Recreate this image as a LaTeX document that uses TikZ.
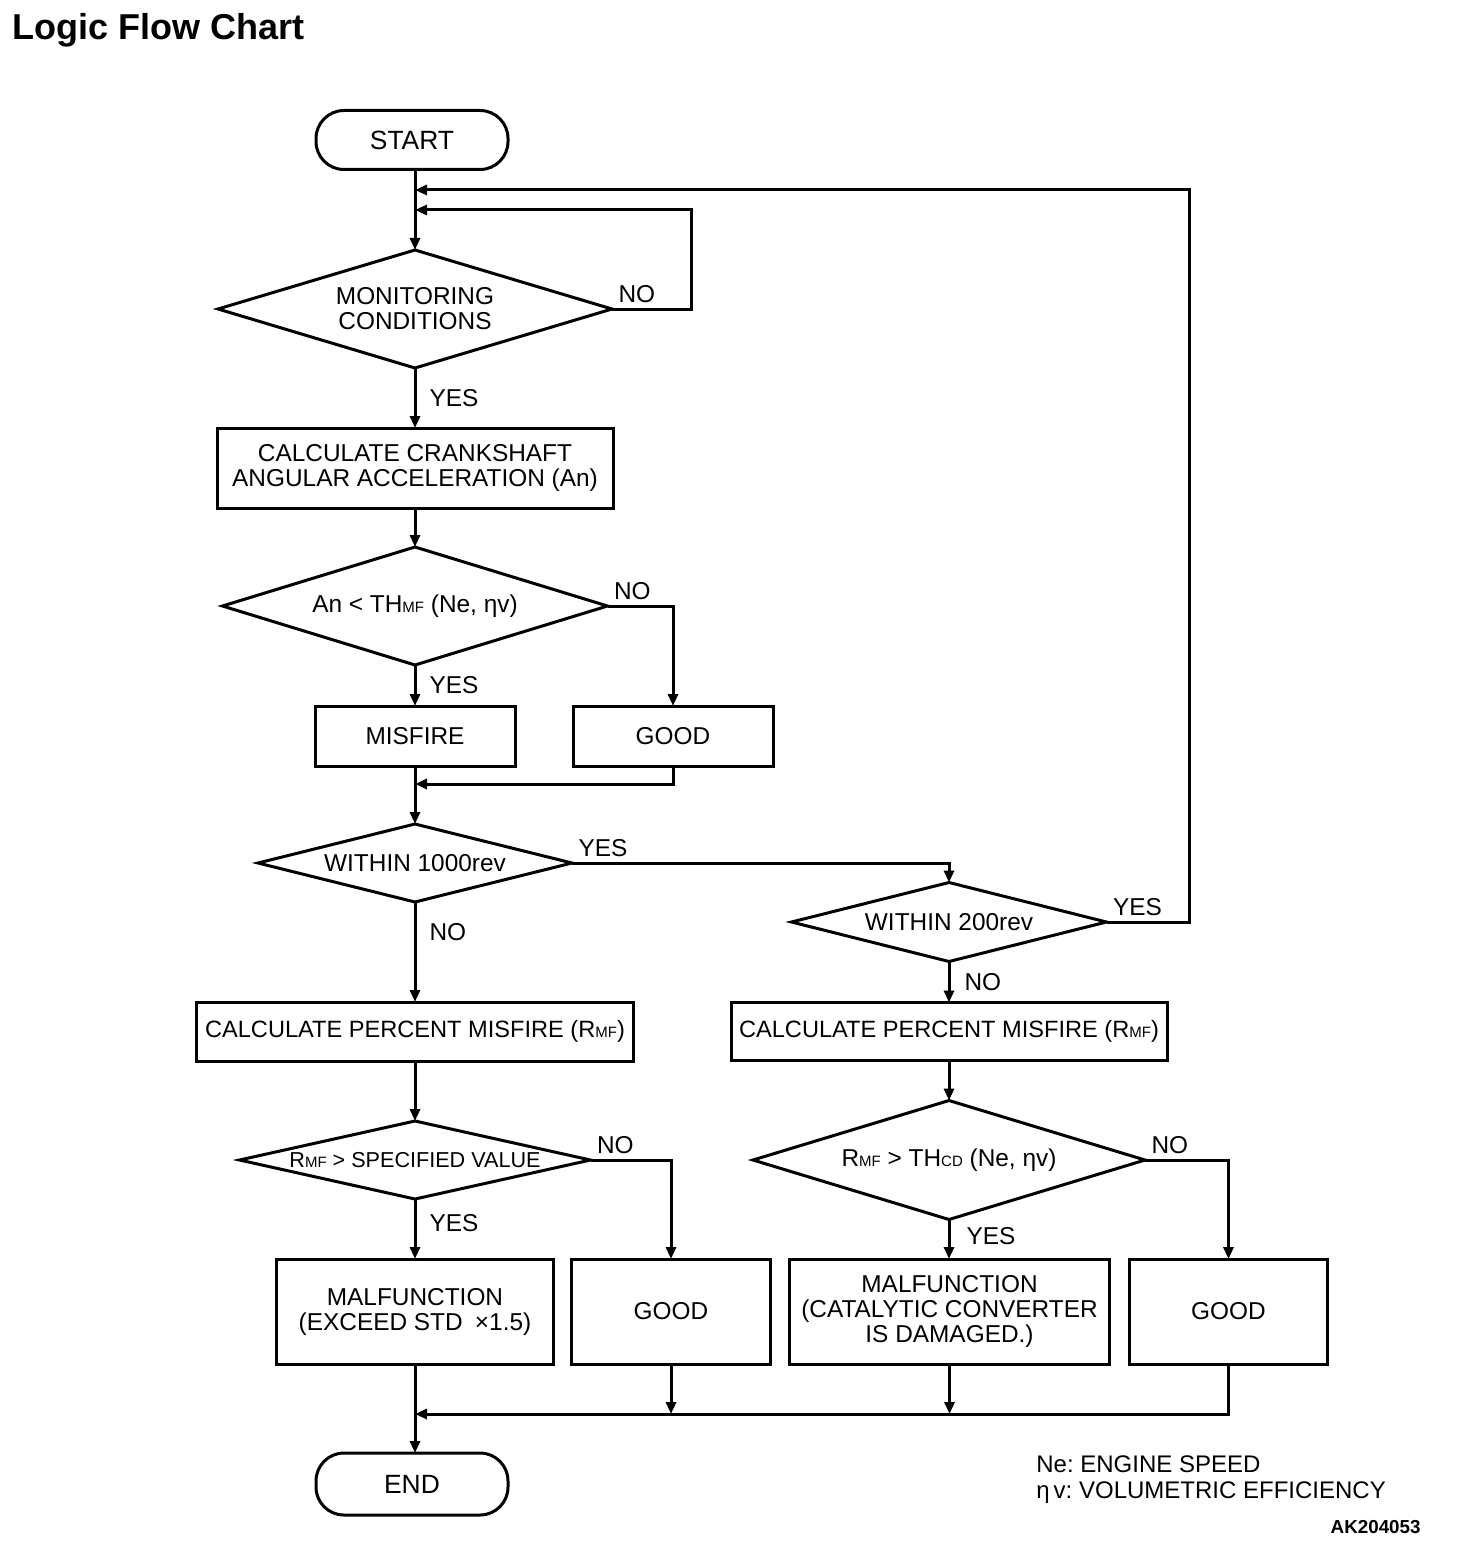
\documentclass[tikz,border=0pt]{standalone}
\usepackage{fontspec}
\setmainfont{Liberation Sans}
\usetikzlibrary{positioning}
\usetikzlibrary{shapes.geometric}
\usetikzlibrary{arrows.meta}

\newcommand{\subtxt}[1]{{\fontsize{7.5}{7.5}\selectfont #1}}
\frenchspacing

\begin{document}
\begin{tikzpicture}[x=0.5pt, y=-0.5pt,
      every node/.style = {font=\fontsize{12.2}{12.5}\selectfont},
      process/.style = {draw, line width=1.5pt, rectangle, inner sep=0pt, outer sep=0pt,
      align=center},
      decision/.style = {draw, line width=1.5pt, diamond, inner sep=0pt, outer sep=0pt,
      align=center},
      terminal/.style = {draw, line width=1.5pt, rectangle, rounded corners=14pt,
      inner sep=0pt, outer sep=0pt, minimum width=96pt, font=\fontsize{13.2}{14}\selectfont},
      flow/.style = {line width=1.5pt, -{Triangle[length=6pt,width=5pt]}},
      answer/.style = {inner sep=2.5pt}
]
   \useasboundingbox (0,0) rectangle (1456,1546);

   \node[anchor=base west, inner sep=0pt, font=\bfseries\fontsize{18}{18}\selectfont]
   (title) at (12,40) {Logic Flow Chart};

   % start and monitoring
   \node[terminal, minimum height=29.5pt]                  (start) at (412,140) {START};
   \node[decision, minimum width=197pt, minimum height=59pt, aspect=3.339] (mon) at (415,309)
   {MONITORING\\CONDITIONS};
   \node[process, minimum width=198pt, minimum height=40pt, below=30pt of mon] (calc)
   {CALCULATE CRANKSHAFT\\ANGULAR ACCELERATION (An)};
   \node[decision, minimum width=192.5pt, minimum height=59pt, aspect=3.263,
   below=19.5pt of calc] (ang) {An < TH\subtxt{MF} (Ne, ηv)};
   \node[process, minimum width=100pt, minimum height=30pt, below=20.5pt of ang] (misfire) {MISFIRE};
   \node[process, minimum width=100pt, minimum height=30pt, right=29pt of misfire] (good1) {GOOD};

   % 1000rev branch
   \node[decision, minimum width=157pt, minimum height=39pt, aspect=4.026,
   below=29pt of misfire] (w1000) {WITHIN 1000rev};
   \node[process, minimum width=218.5pt, minimum height=29.5pt, below=50pt of w1000,
   font=\fontsize{11.8}{12}\selectfont] (calcL) {CALCULATE PERCENT MISFIRE (R\subtxt{MF})};
   \node[decision, minimum width=175.5pt, minimum height=39pt, aspect=4.5, below=30pt of calcL,
   font=\fontsize{10.8}{12}\selectfont] (spec) {R\subtxt{MF} > SPECIFIED VALUE};
   \node[process, minimum width=138.5pt, minimum height=52.5pt, below=30pt of spec] (malL)
   {MALFUNCTION\\(EXCEED STD\enspace×1.5)};
   \node[process, minimum width=99.5pt, minimum height=52.5pt, right=9pt of malL] (good2) {GOOD};

   % 200rev branch
   \node[decision, minimum width=157.5pt, minimum height=39.5pt, aspect=3.987] (w200)
   at (949,922) {WITHIN 200rev};
   \node[process, minimum width=218pt, minimum height=29pt, below=20.5pt of w200,
   font=\fontsize{11.8}{12}\selectfont] (calcR) {CALCULATE PERCENT MISFIRE (R\subtxt{MF})};
   \node[decision, minimum width=196pt, minimum height=59.5pt, aspect=3.294,
   below=20pt of calcR] (cd) {R\subtxt{MF} > TH\subtxt{CD} (Ne, ηv)};
   \node[process, minimum width=160pt, minimum height=52.5pt, right=9.5pt of good2] (malR)
   {MALFUNCTION\\(CATALYTIC CONVERTER\\IS DAMAGED.)};
   \node[process, minimum width=99pt, minimum height=52.5pt, right=10pt of malR] (good3) {GOOD};

   \node[terminal, minimum height=31pt]                    (end) at (412,1484) {END};

   % legend
   \node[anchor=base west, inner sep=0pt, font=\fontsize{12}{12}\selectfont] (ne)
   at (1036,1472) {Ne: ENGINE SPEED};
   \node[anchor=base west, inner sep=0pt, font=\fontsize{12}{12}\selectfont] (eta)
   at (1036,1498) {η\,v: VOLUMETRIC EFFICIENCY};
   \node[anchor=base east, inner sep=0pt, font=\bfseries\fontsize{9.4}{9.4}\selectfont]
   (code) at (1421,1533) {AK204053};

   % junctions on the main line
   \coordinate (back2) at (415,190);
   \coordinate (back1) at (415,210);
   \coordinate (back3) at (415,784);
   \coordinate (merge) at (415,1414);

   \draw[flow] (start.south -| mon.north) -- (mon.north);
   \draw[flow] (mon.east) node[answer, anchor=south west] {NO} -- ++(79,0) |- (back1);
   \draw[flow] (mon) -- node[answer, right=4pt] {YES} (calc);
   \draw[flow] (calc) -- (ang);
   \draw[flow] (ang) -- node[answer, right=4pt] {YES} (misfire);
   \draw[flow] (ang.east) node[answer, anchor=south west] {NO} -| (good1.north);
   \draw[flow] (good1.south) |- (back3);
   \draw[flow] (misfire) -- (w1000);

   \draw[flow] (w1000.east) node[answer, anchor=south west] {YES} -| (w200.north);
   \draw[flow] (w1000) -- node[answer, right=4pt, pos=.3] {NO} (calcL);
   \draw[flow] (w200.east) node[answer, anchor=south west] {YES} -- ++(83,0) |- (back2);
   \draw[flow] (w200) -- node[answer, right=4.5pt] {NO} (calcR);

   \draw[flow] (calcL) -- (spec);
   \draw[flow] (spec) -- node[answer, right=4pt, pos=.4] {YES} (malL);
   \draw[flow] (spec.east) node[answer, anchor=south west] {NO} -| (good2.north);
   \draw[flow] (calcR) -- (cd);
   \draw[flow] (cd.south) -- node[answer, right=5.5pt, pos=.42] {YES} (cd.south |- malR.north);
   \draw[flow] (cd.east) node[answer, anchor=south west] {NO} -| (good3.north);

   % back to end
   \draw[flow] (good3.south) |- (merge);
   \draw[flow] (malR.south) -- (malR.south |- merge);
   \draw[flow] (good2.south) -- (good2.south |- merge);
   \draw[flow] (malL.south) -- (malL.south |- end.north);
\end{tikzpicture}
\end{document}
